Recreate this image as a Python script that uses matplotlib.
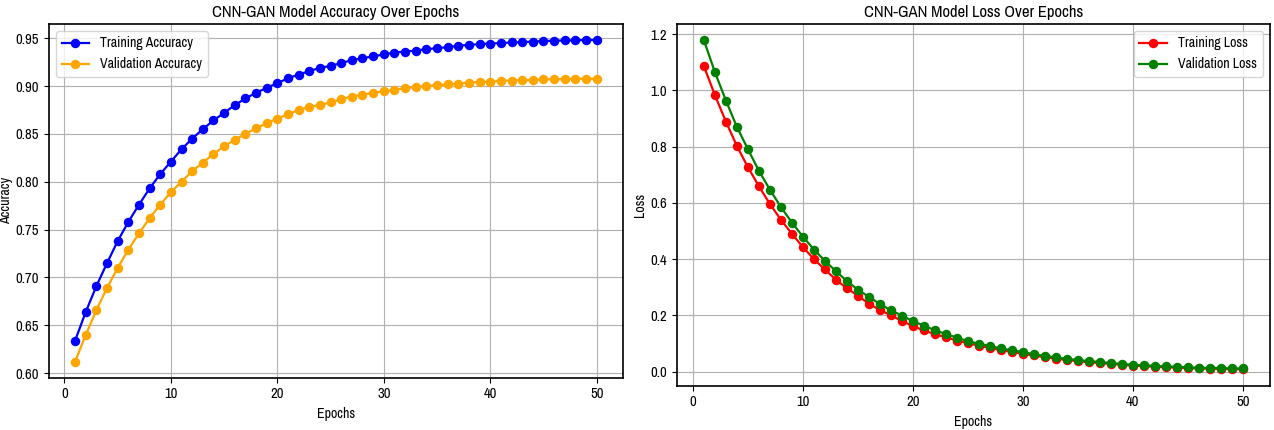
import matplotlib
matplotlib.use("Agg")
import matplotlib.pyplot as plt
from matplotlib import font_manager

# buscar una fuente estrecha; si no hay, DejaVu con tamaños menores
nombres = sorted({f.name for f in font_manager.fontManager.ttflist})
estrechas = [n for n in nombres if "Narrow" in n or "Condensed" in n]
if estrechas:
    fuente = estrechas[0]
    t_tit, t_txt, t_tick = 12, 10, 10.5
else:
    fuente = "DejaVu Sans"
    t_tit, t_txt, t_tick = 10.5, 8.5, 8.5
plt.rcParams["font.family"] = [fuente, "DejaVu Sans"]

epochs = list(range(1, 51))

train_acc = [0.634, 0.664, 0.691, 0.715, 0.738, 0.758, 0.776, 0.793, 0.808, 0.821,
             0.834, 0.845, 0.855, 0.864, 0.872, 0.880, 0.887, 0.893, 0.898, 0.903,
             0.908, 0.912, 0.9155, 0.919, 0.921, 0.924, 0.927, 0.929, 0.931, 0.933,
             0.935, 0.936, 0.937, 0.9385, 0.9395, 0.9406, 0.942, 0.943, 0.9437, 0.9444,
             0.9448, 0.9455, 0.9458, 0.9465, 0.9469, 0.9474, 0.9476, 0.9478, 0.948, 0.948]
val_acc = [0.612, 0.640, 0.666, 0.689, 0.710, 0.729, 0.746, 0.762, 0.776, 0.789,
           0.800, 0.811, 0.820, 0.829, 0.837, 0.844, 0.850, 0.856, 0.861, 0.866,
           0.8705, 0.875, 0.878, 0.880, 0.883, 0.886, 0.889, 0.891, 0.893, 0.8945,
           0.896, 0.8977, 0.899, 0.8998, 0.901, 0.9016, 0.9026, 0.9036, 0.9043, 0.9045,
           0.9054, 0.9057, 0.906, 0.9062, 0.907, 0.907, 0.9072, 0.9075, 0.9075, 0.9076]

train_loss = [1.086, 0.983, 0.889, 0.802, 0.727, 0.659, 0.596, 0.540, 0.490, 0.443,
              0.400, 0.363, 0.327, 0.296, 0.270, 0.241, 0.219, 0.200, 0.180, 0.162,
              0.146, 0.133, 0.122, 0.110, 0.101, 0.092, 0.084, 0.076, 0.070, 0.063,
              0.057, 0.051, 0.046, 0.041, 0.037, 0.033, 0.030, 0.027, 0.024, 0.021,
              0.019, 0.017, 0.015, 0.014, 0.012, 0.011, 0.010, 0.009, 0.009, 0.008]
val_loss = [1.178, 1.065, 0.964, 0.870, 0.791, 0.714, 0.647, 0.585, 0.530, 0.480,
            0.434, 0.394, 0.357, 0.322, 0.291, 0.266, 0.240, 0.218, 0.199, 0.179,
            0.163, 0.147, 0.133, 0.121, 0.108, 0.099, 0.091, 0.082, 0.076, 0.069,
            0.0615, 0.056, 0.050, 0.045, 0.041, 0.037, 0.034, 0.030, 0.027, 0.024,
            0.022, 0.020, 0.018, 0.017, 0.015, 0.013, 0.013, 0.012, 0.011, 0.011]

fig = plt.figure(figsize=(12.74, 4.30), dpi=100)
ax1 = fig.add_axes([0.0385, 0.1216, 0.4503, 0.8226])
ax2 = fig.add_axes([0.5314, 0.1030, 0.4652, 0.8412])

ax1.plot(epochs, train_acc, marker="o", color="blue", markersize=5.8, linewidth=1.6, label="Training Accuracy")
ax1.plot(epochs, val_acc, marker="o", color="orange", markersize=5.8, linewidth=1.6, label="Validation Accuracy")
ax1.set_title("CNN-GAN Model Accuracy Over Epochs", fontsize=t_tit, pad=5)
ax1.set_xlabel("Epochs", fontsize=t_txt)
ax1.set_ylabel("Accuracy", fontsize=t_txt)
ax1.yaxis.set_label_coords(-0.062, 0.5)
ax1.legend(loc="upper left", fontsize=t_txt)
ax1.grid(True)

ax2.plot(epochs, train_loss, marker="o", color="red", markersize=5.8, linewidth=1.6, label="Training Loss")
ax2.plot(epochs, val_loss, marker="o", color="green", markersize=5.8, linewidth=1.6, label="Validation Loss")
ax2.set_title("CNN-GAN Model Loss Over Epochs", fontsize=t_tit, pad=5)
ax2.set_xlabel("Epochs", fontsize=t_txt)
ax2.set_ylabel("Loss", fontsize=t_txt)
ax2.yaxis.set_label_coords(-0.05, 0.5)
ax2.legend(loc="upper right", fontsize=t_txt)
ax2.grid(True)

for ax in (ax1, ax2):
    ax.tick_params(labelsize=t_tick)
    for s in ax.spines.values():
        s.set_linewidth(1.2)

fig.savefig("out.png", dpi=100)
